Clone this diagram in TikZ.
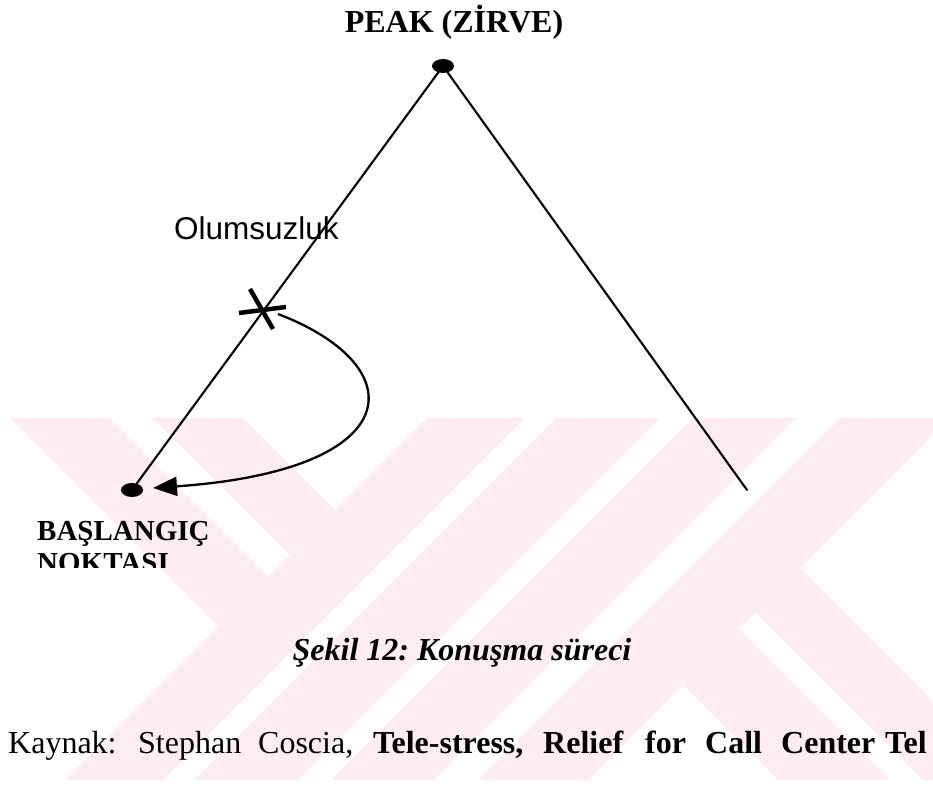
\documentclass[tikz,border=0pt]{standalone}
\usepackage{fontspec}
\setmainfont{Liberation Serif}
\newfontfamily\arialfont{Liberation Sans}
\usetikzlibrary{arrows.meta,shapes.geometric}
\definecolor{wmpink}{RGB}{253,236,240}
\frenchspacing
\begin{document}
\begin{tikzpicture}[x=1pt,y=-1pt,
  dot/.style={ellipse, fill=black, inner sep=0pt},
  edge/.style={line width=2.1pt, line cap=round},
  crossmark/.style={line width=4.5pt},
  flow/.style={line width=2.3pt, -{Triangle[length=24pt,width=19pt]}},
  txt/.style={inner sep=0pt, anchor=base west},
  headfont/.style={font=\fontsize{32}{38}\selectfont\bfseries},
  startfont/.style={font=\fontsize{29}{35}\selectfont\bfseries},
  capfont/.style={font=\fontsize{32}{38}\selectfont\bfseries\itshape},
  srcfont/.style={font=\fontsize{32}{38}\selectfont},
  srcbold/.style={font=\fontsize{32}{38}\selectfont\bfseries},
  notefont/.style={font=\fontsize{31.5}{37}\selectfont\arialfont}]
\useasboundingbox (0,0) rectangle (933,786);
\clip (0,0) rectangle (933,786);

% pale background stripes
\begin{scope}
  \clip (10,418) rectangle (933,780);
  \fill[wmpink] (10,418) rectangle (933,780);
  \fill[white] (218.5,626.5) -- (-55,900) -- (-200,900) -- (-200,208) -- cycle;
  \fill[white] (290,555) -- (268.5,576.5) -- (-8,300) -- (35,300) -- cycle;
  \fill[white] (335,510) -- (125,300) -- (545,300) -- cycle;
  \fill[white] (643,300) -- (674,300) -- (74,900) -- (43,900) -- cycle;
  \fill[white] (778,300) -- (811,300) -- (211,900) -- (178,900) -- cycle;
  \fill[white] (914,300) -- (958,300) -- (358,900) -- (314,900) -- cycle;
  \fill[white] (800,568) -- (1068,300) -- (1100,300) -- (1100,868) -- cycle;
  \fill[white] (755.5,612.5) -- (1043,900) -- (1010,900) -- (739,629) -- cycle;
  \fill[white] (683,685) -- (898,900) -- (468,900) -- cycle;
\end{scope}

% points of the curve
\node[dot, minimum width=22pt, minimum height=14pt] (peak) at (443,66) {};
\node[dot, minimum width=22pt, minimum height=14pt] (start) at (132,490) {};
\coordinate (finish) at (747,490);
\coordinate (crossA) at (239,313);
\coordinate (crossB) at (286,307);
\coordinate (crossC) at (250,289);
\coordinate (crossD) at (273,329);
\coordinate (back) at (278,314);
\coordinate (tip) at (153,488);

\draw[edge] (start.center) -- (peak.center) -- (finish);
\draw[crossmark] (crossA) -- (crossB);
\draw[crossmark] (crossC) -- (crossD);
\draw[flow] (back) .. controls (414,366) and (410,470) .. (tip);

% labels
\node[headfont, inner sep=0pt, anchor=base] (peaklbl) at (454,33) {PEAK (ZİRVE)};
\node[notefont, txt] (neg) at (174,240) {Olumsuzluk};
\node[startfont, txt] (startlbl) at (37,540) {BAŞLANGIÇ};
\begin{scope}
  \clip (0,0) rectangle (933,567.5);
  \node[startfont, txt] (startlbl2) at (37,572) {NOKTASI};
\end{scope}
\node[capfont, inner sep=0pt, anchor=base] (caption) at (462,660) {Şekil 12: Konuşma süreci};

% source line
\node[srcfont, txt] (s1) at (8,753) {Kaynak:};
\node[srcfont, txt] (s2) at (138,753) {Stephan};
\node[srcfont, txt] (s3) at (258,753) {Coscia,};
\node[srcbold, txt] (s4) at (373,753) {Tele-stress,};
\node[srcbold, txt] (s5) at (543,753) {Relief};
\node[srcbold, txt] (s6) at (645,753) {for};
\node[srcbold, txt] (s7) at (705,753) {Call};
\node[srcbold, txt] (s8) at (781,753) {Center};
\node[srcbold, txt] (s9) at (885,753) {Tel};
\end{tikzpicture}
\end{document}
